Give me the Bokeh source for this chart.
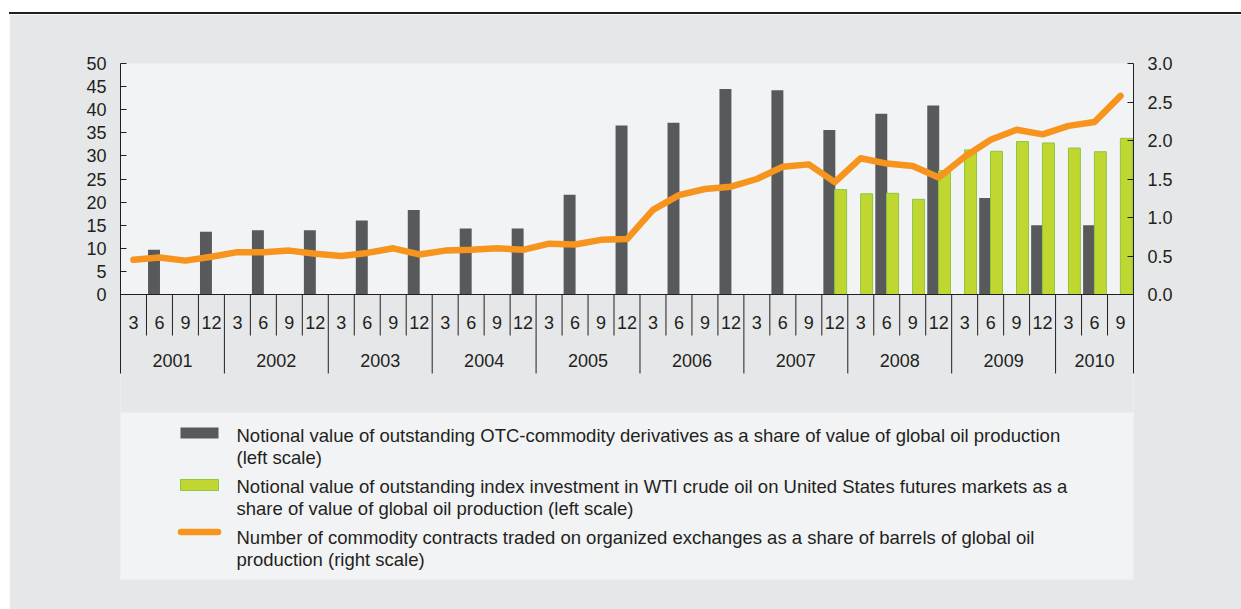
from bokeh.plotting import figure
from bokeh.models import Range1d, LinearAxis, FixedTicker, Span, NumeralTickFormatter
from bokeh.core.properties import value
from bokeh.embed import file_html
from bokeh.resources import INLINE

# ---------------- data ----------------
years = ["2001", "2002", "2003", "2004", "2005", "2006", "2007", "2008", "2009", "2010"]
quarter_labels = ["3", "6", "9", "12"]
quarters_in_year = [4, 4, 4, 4, 4, 4, 4, 4, 4, 3]

# OTC commodity derivatives, share of value of global oil production (left scale)
otc_share = [None, 9.7, None, 13.6, None, 13.9, None, 13.9,
             None, 16.0, None, 18.3, None, 14.3, None, 14.3,
             None, 21.6, None, 36.6, None, 37.2, None, 44.5,
             None, 44.2, None, 35.6, None, 39.1, None, 40.9,
             None, 20.9, None, 15.0, None, 15.0, None]
# Index investment in WTI crude oil (left scale)
index_share = [None, None, None, None, None, None, None, None,
               None, None, None, None, None, None, None, None,
               None, None, None, None, None, None, None, None,
               None, None, None, 22.7, 21.8, 21.9, 20.6, 26.8,
               31.3, 31.0, 33.1, 32.8, 31.7, 30.9, 33.8]
# Commodity contracts on organized exchanges, share of barrels (right scale)
contracts_share = [0.45, 0.48, 0.44, 0.49, 0.55, 0.55, 0.57, 0.53,
                   0.50, 0.54, 0.60, 0.52, 0.57, 0.58, 0.60, 0.58,
                   0.66, 0.65, 0.71, 0.72, 1.10, 1.29, 1.37, 1.40,
                   1.50, 1.66, 1.69, 1.46, 1.77, 1.70, 1.67, 1.52,
                   1.79, 2.01, 2.14, 2.08, 2.19, 2.24, 2.58]

left_ticks = [0, 5, 10, 15, 20, 25, 30, 35, 40, 45, 50]
right_ticks = [0.0, 0.5, 1.0, 1.5, 2.0, 2.5, 3.0]

legend_lines = [
    ["Notional value of outstanding OTC-commodity derivatives as a share of value of global oil production",
     "(left scale)"],
    ["Notional value of outstanding index investment in WTI crude oil on United States futures markets as a",
     "share of value of global oil production (left scale)"],
    ["Number of commodity contracts traded on organized exchanges as a share of barrels of global oil",
     "production (right scale)"],
]

# ---------------- styles / layout ----------------
DARK = "#231f20"
BG = "#e6e7e8"
LIGHT = "#f2f3f5"
BAR_DARK = "#58595b"
BAR_GREEN = "#bfd730"
BAR_GREEN_EDGE = "#8dc63f"
ORANGE = "#f7941d"
FONT = "Liberation Sans"

W, H = 1232, 595
BORDER_L, FRAME_W = 111, 1013
FRAME_TOP, ZERO_Y, FRAME_BOTTOM = 49, 280, 565   # px inside the figure
PPU = (ZERO_Y - FRAME_TOP) / left_ticks[-1]      # pixels per left-scale unit

periods = []
for y, n in zip(years, quarters_in_year):
    for q in quarter_labels[:n]:
        periods.append((y, q))
n_per = len(periods)
centers = [i + 0.5 for i in range(n_per)]
PPX = FRAME_W / n_per


def py(d):
    """pixels below the zero line -> left-scale data units"""
    return -d / PPU


def px(d):
    """pixels right of the frame's left edge -> x data units"""
    return d / PPX


y_start = py(FRAME_BOTTOM - ZERO_Y)
ratio = right_ticks[-1] / left_ticks[-1]

p = figure(width=W, height=H, x_range=Range1d(0, n_per),
           y_range=Range1d(y_start, left_ticks[-1]),
           output_backend="svg", toolbar_location=None,
           x_axis_type=None, y_axis_type=None,
           min_border_left=BORDER_L, min_border_right=W - BORDER_L - FRAME_W,
           min_border_top=FRAME_TOP, min_border_bottom=H - FRAME_BOTTOM,
           background_fill_color=BG, border_fill_color=BG, outline_line_color=None,
           margin=(14, 0, 0, 9), styles={"box-shadow": "0 -2px 0 0 #231f20"})
p.extra_y_ranges = {"right": Range1d(y_start * ratio, right_ticks[-1])}
p.grid.visible = False

# plot area and legend box backgrounds
p.quad(left=0, right=n_per, bottom=0, top=left_ticks[-1], fill_color=LIGHT, line_color=None)
p.quad(left=0, right=n_per, top=py(118), bottom=y_start, fill_color=LIGHT, line_color=None)

# bars
otc_x = [i + 0.29 for i, v in enumerate(otc_share) if v is not None]
otc_v = [v for v in otc_share if v is not None]
idx_x = [i + 0.725 for i, v in enumerate(index_share) if v is not None]
idx_v = [v for v in index_share if v is not None]

p.vbar(x=otc_x, top=otc_v, bottom=0, width=0.46, fill_color=BAR_DARK, line_color=None)
p.vbar(x=idx_x, top=idx_v, bottom=0, width=0.46,
       fill_color=BAR_GREEN, line_color=BAR_GREEN_EDGE, line_width=1)
p.line(x=centers, y=contracts_share, y_range_name="right",
       line_color=ORANGE, line_width=6.5, line_cap="round", line_join="round")

# x axis (two-level categorical, drawn from the period list)
p.add_layout(Span(location=0, dimension="width", line_color=DARK, line_width=1))
short_x, long_x = [], []
for i in range(1, n_per):
    (long_x if periods[i][0] != periods[i - 1][0] else short_x).append(i)
p.segment(x0=short_x, x1=short_x, y0=0, y1=py(41), line_color=DARK, line_width=1)
p.segment(x0=long_x, x1=long_x, y0=0, y1=py(79), line_color=DARK, line_width=1)

p.text(x=centers, y=[py(28)] * n_per, text=[q for _, q in periods],
       text_font=value(FONT), text_font_size="18px", text_color=DARK,
       text_align="center", text_baseline="middle")
year_x = []
start = 0
for n in quarters_in_year:
    year_x.append(start + n / 2)
    start += n
p.text(x=year_x, y=[py(66)] * len(years), text=years,
       text_font=value(FONT), text_font_size="18px", text_color=DARK,
       text_align="center", text_baseline="middle")

# y axes
common = dict(major_tick_in=6, major_tick_out=0, minor_tick_line_color=None,
              axis_line_color=DARK, major_tick_line_color=DARK,
              major_label_text_font=FONT, major_label_text_font_size="18px",
              major_label_text_color=DARK, major_label_standoff=14)
la = LinearAxis(ticker=FixedTicker(ticks=left_ticks), bounds=(py(79), left_ticks[-1]), **common)
ra = LinearAxis(y_range_name="right", ticker=FixedTicker(ticks=right_ticks),
                bounds=(py(79) * ratio, right_ticks[-1]),
                formatter=NumeralTickFormatter(format="0.0"), **common)
p.add_layout(la, "left")
p.add_layout(ra, "right")

# legend (drawn in the frame, below the axis)
icon_l, icon_r = px(60), px(98)
p.quad(left=[icon_l], right=[icon_r], top=[py(133)], bottom=[py(144)],
       fill_color=BAR_DARK, line_color=None)
p.quad(left=[icon_l], right=[icon_r], top=[py(185)], bottom=[py(196)],
       fill_color=BAR_GREEN, line_color=BAR_GREEN_EDGE, line_width=1)
p.segment(x0=[px(60.5)], x1=[px(97.5)], y0=[py(237.5)], y1=[py(237.5)],
          line_color=ORANGE, line_width=6.5, line_cap="round")
txt_y, txt = [], []
for k, lines in enumerate(legend_lines):
    for j, line in enumerate(lines):
        txt_y.append(py(141 + 51 * k + 22 * j))
        txt.append(line)
p.text(x=[px(116)] * len(txt), y=txt_y, text=txt,
       text_font=value(FONT), text_font_size="18.5px", text_color=DARK,
       text_align="left", text_baseline="middle")

open("out.html", "w").write(file_html(p, INLINE))
